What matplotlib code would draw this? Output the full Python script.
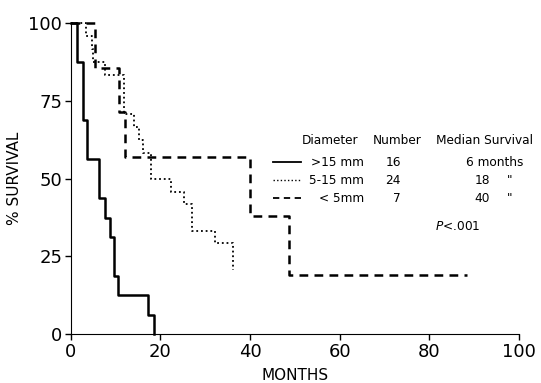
import matplotlib
matplotlib.use("Agg")
import matplotlib.pyplot as plt
from matplotlib.lines import Line2D

# Kaplan-Meier style step curves (months, % survival)
big_t = [0, 1.3, 2.7, 3.6, 6.4, 7.6, 8.7, 9.6, 10.6, 17.3, 18.5]
big_s = [100, 87.5, 68.75, 56.25, 43.75, 37.5, 31.25, 18.75, 12.5, 6.25, 0]

mid_t = [0, 3.4, 4.7, 5.0, 7.7, 11.9, 14.1, 15.2, 16.2, 17.9, 22.4, 25.3, 27.1, 32.2, 36.1]
mid_s = [100, 95.8, 91.7, 87.5, 83.3, 70.8, 66.7, 62.5, 58.3, 50.0, 45.8, 41.7, 33.3, 29.2, 20.8]

small_t = [0, 5.4, 10.8, 12.1, 40.0, 48.8, 88.5]
small_s = [100, 85.7, 71.4, 57.1, 38.1, 19.0, 19.0]

groups = [">15 mm", "5-15 mm", "< 5mm"]
numbers = ["16", "24", "7"]
medians = ["6 months", "18", "40"]
xticks = [0, 20, 40, 60, 80, 100]
yticks = [0, 25, 50, 75, 100]

W, H = 541, 383
fig = plt.figure(figsize=(W / 100, H / 100), dpi=100)
ax = fig.add_axes([70.7 / W, 1 - 334.3 / H, (519 - 70.7) / W, (334.3 - 23) / H])

ax.step(big_t, big_s, where="post", color="black", lw=1.8, clip_on=False)
ax.step(mid_t, mid_s, where="post", color="black", lw=1.3, linestyle=(0, (1, 1.6)), clip_on=False)
ax.step(small_t, small_s, where="post", color="black", lw=1.8, linestyle=(0, (3.5, 2.5)), clip_on=False)

ax.set_xlim(0, 100)
ax.set_ylim(0, 100)
ax.set_xticks(xticks)
ax.set_yticks(yticks)
ax.tick_params(direction="out", length=4, width=1, labelsize=13, pad=2)
for side in ["top", "right"]:
    ax.spines[side].set_visible(False)
ax.set_xlabel("MONTHS", fontsize=11, labelpad=5)
ax.set_ylabel("% SURVIVAL", fontsize=11, labelpad=5)


def px(x, y):
    return x / W, 1 - y / H


fs = 8.7
fig.text(*px(330, 141), "Diameter", fontsize=fs, ha="center", va="center")
fig.text(*px(397, 141), "Number", fontsize=fs, ha="center", va="center")
fig.text(*px(485, 141), "Median Survival", fontsize=fs, ha="center", va="center")

styles = ["-", (0, (1, 1.6)), (0, (3.5, 2.5))]
widths = [1.3, 1.0, 1.3]
rows_y = [162, 180, 198]
for i in range(3):
    y = rows_y[i]
    x0, y0 = px(273, y)
    x1, _ = px(301, y)
    fig.add_artist(Line2D([x0, x1], [y0, y0], color="black", lw=widths[i], linestyle=styles[i]))
    fig.text(*px(364, y), groups[i], fontsize=fs, ha="right", va="center")
    fig.text(*px(401, y), numbers[i], fontsize=fs, ha="right", va="center")
    if i == 0:
        fig.text(*px(466, y), medians[i], fontsize=fs, ha="left", va="center")
    else:
        fig.text(*px(490, y), medians[i], fontsize=fs, ha="right", va="center")
        fig.text(*px(510, y), '"', fontsize=fs, ha="center", va="center")

fig.text(*px(435, 227), "$P$<.001", fontsize=fs, ha="left", va="center")

fig.savefig("out.png", dpi=100)
